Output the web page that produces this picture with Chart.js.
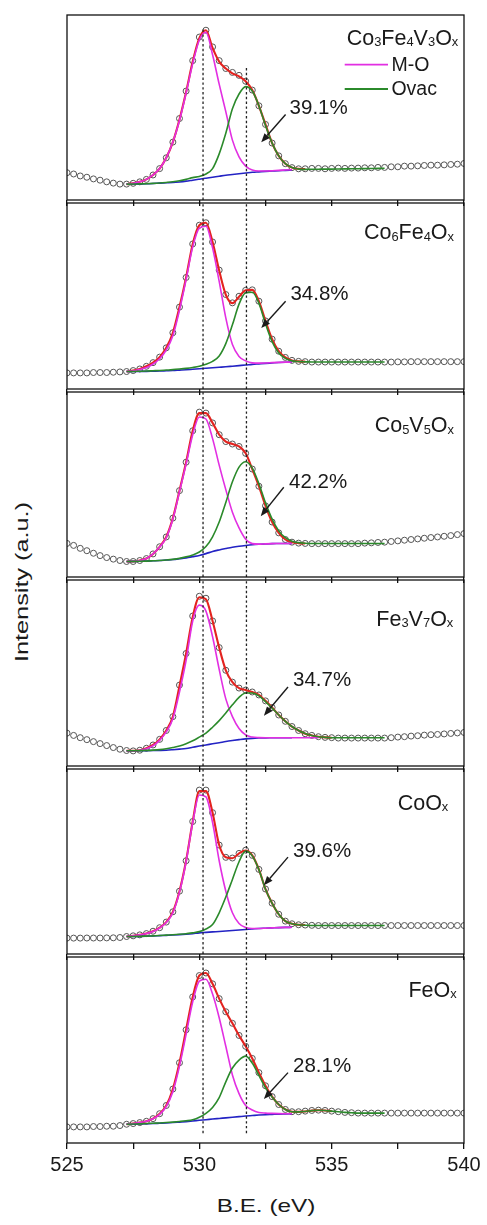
<!DOCTYPE html>
<html>
<head>
<meta charset="utf-8">
<script src="https://cdn.jsdelivr.net/npm/chart.js@4.4.1/dist/chart.umd.min.js"></script>
<style>
  body { margin: 0; background: #fff; }
  #wrap { position: relative; width: 487px; height: 1225px; overflow: hidden; background: #fff; }
  .panel { position: absolute; left: 0; width: 487px; }
  .title { position: absolute; white-space: nowrap; line-height: 1; color: #1a1a1a;
           font-family: Arial, "Liberation Sans", sans-serif; }
  #ytitle { left: 21px; top: 582px; font-size: 19px; transform: translate(-50%, -50%) rotate(-90deg) scaleX(1.33); }
  #xtitle { left: 266px; top: 1205px; font-size: 19px; transform: translate(-50%, -50%) scaleX(1.28); }
</style>
</head>
<body>
<div id="wrap">
  <div class="title" id="ytitle">Intensity (a.u.)</div>
  <div class="title" id="xtitle">B.E. (eV)</div>
</div>
<script>
// binding energy grid of the measured points (eV)
const energy = [525, 525.25, 525.5, 525.75, 526, 526.25, 526.5, 526.75, 527, 527.25, 527.5, 527.75,
  528, 528.25, 528.5, 528.75, 529, 529.25, 529.5, 529.75, 530, 530.25, 530.5, 530.75,
  531, 531.25, 531.5, 531.75, 532, 532.25, 532.5, 532.75, 533, 533.25, 533.5, 533.75,
  534, 534.25, 534.5, 534.75, 535, 535.25, 535.5, 535.75, 536, 536.25, 536.5, 536.75,
  537, 537.25, 537.5, 537.75, 538, 538.25, 538.5, 538.75, 539, 539.25, 539.5, 539.75, 540];
// grid of the fitted curves (eV)
const fitEnergy = [527.25, 527.5, 527.75, 528, 528.25, 528.5, 528.75, 529, 529.25, 529.5,
  529.75, 530, 530.25, 530.5, 530.75, 531, 531.25, 531.5, 531.75, 532,
  532.25, 532.5, 532.75, 533, 533.25, 533.5, 533.75, 534, 534.25, 534.5,
  534.75, 535, 535.25, 535.5, 535.75, 536, 536.25, 536.5, 536.75, 537];

const samples = ['Co3Fe4V3Ox', 'Co6Fe4Ox', 'Co5V5Ox', 'Fe3V7Ox', 'CoOx', 'FeOx'];
const ovacShare = [39.1, 34.8, 42.2, 34.7, 39.6, 28.1];
const peakCenters = [530.14, 531.78];

// Co3Fe4V3Ox
const coFeV_pts = [27.8, 26.5, 24.5, 23.2, 21.5, 20.2, 18.5, 17.2, 16.2,
  16.2, 17, 18.5, 21, 25.5, 32, 43, 59, 83, 111, 142, 166,
  173, 156, 142, 134, 130, 127, 121, 112, 96, 77, 58, 45,
  37, 33, 31.8, 31.8, 32.2, 32.2, 31.8, 32.2, 32.5, 32.2, 32.5, 32.5,
  32.8, 32.8, 33.2, 33.2, 33.8, 33.8, 34.5, 34.5, 34.8, 35.2, 35.5, 35.5,
  35.8, 36.2, 36.5, 37.2];
const coFeV_fit = [16.2, 17, 18.5, 21, 25.5, 32, 43, 59, 82, 110, 141, 165, 173, 155, 141, 134,
  129, 126, 121, 112, 96, 77, 58, 45, 37, 33, 31.8, 31.5];
const coFeV_mo = [16.2, 17, 18.5, 21, 25.5, 32, 43, 59, 81, 109, 139, 163, 171, 148, 118, 90,
  61, 44, 34.5, 30.5, 29.5, 29.5, 29.8, 30.2, 30.5, 30.8];
const coFeV_ov = [16.2, 16.3, 16.4, 16.6, 16.9, 17.3, 17.9, 18.6, 19.6, 21, 22.8, 24, 26.5, 32, 47, 68,
  93, 108, 115.5, 111, 96, 76, 58, 45, 37, 33, 31.5, 31.2, 31.3, 31.4, 31.5, 31.5,
  31.6, 31.7, 31.8, 31.9, 32, 32.1, 32.2, 32.3];
const coFeV_bg = [16.2, 16.3, 16.4, 16.5, 16.8, 17.2, 17.5, 17.8, 18.4, 19.2, 20.2, 21.2, 22.2,
  23.2, 24.2, 25.2, 26, 26.8, 27.5, 28.2, 28.7, 29.2, 29.5, 29.8, 30.2, 30.5];

// Co6Fe4Ox
const coFe_pts = [16.3, 16.3, 16.3, 16.3, 16.7, 16.7, 16.7, 17, 17.3,
  17.7, 18.7, 20.3, 23, 26.7, 32.3, 41.7, 57, 83, 113, 147, 166,
  168.5, 149, 120.5, 95.7, 87.3, 94, 100, 100.5, 89, 69, 50.5, 38.3,
  32, 29, 28, 27.7, 27.3, 27.3, 27.3, 27.3, 27.3, 27.3, 27.3, 27.3,
  27.3, 27.3, 27.3, 27.3, 27.3, 27.5, 27.5, 27.7, 27.7, 27.7, 27.7, 27.7,
  27.7, 27.7, 27.7, 27.7];
const coFe_fit = [17.7, 18.7, 20.3, 23, 26.7, 32.3, 41.7, 57, 83, 113, 147, 166, 168.5, 149, 120, 95.5,
  87, 93.5, 100, 100.5, 89, 69, 50.5, 38.3, 32, 29, 28, 27.7];
const coFe_mo = [17.7, 18.3, 19.7, 21.7, 25.3, 30.7, 39.5, 54, 80, 111, 144, 163, 165, 143, 109, 72,
  45, 33, 28.5, 26.5, 26.2, 26.3, 26.7, 27, 27.2, 27.3];
const coFe_ov = [17.7, 17.8, 18, 18.2, 18.5, 18.8, 19.2, 19.6, 20.2, 20.9, 21.8, 23, 25, 28, 33.5, 46,
  65, 86, 97.5, 98, 87, 66, 48, 36.5, 31, 28.5, 27.8, 27.5, 27.3, 27.3, 27.3, 27.3,
  27.3, 27.3, 27.3, 27.3, 27.3, 27.3, 27.3, 27.3];
const coFe_bg = [17.7, 17.8, 17.85, 17.9, 18.05, 18.2, 18.45, 18.7, 19.1, 19.5, 20, 20.5, 21,
  21.5, 22, 22.5, 23.1, 23.7, 24.3, 25, 25.5, 26, 26.4, 26.8, 27.1, 27.3];

// Co5V5Ox
const coV_pts = [34.2, 32.2, 29.2, 26.8, 24.2, 21.8, 19.8, 18.2, 16.8,
  15.8, 15.8, 16.8, 18.8, 23.5, 30.8, 40.8, 60, 88, 117, 149, 168,
  167, 157, 145, 138, 135.5, 133, 126, 110, 92.5, 72.5, 56, 45,
  38.2, 35.5, 34.5, 34.2, 34, 34, 34, 34, 34, 34, 34, 34,
  34.5, 34.8, 35.2, 35.5, 36.2, 36.8, 37.5, 38.2, 38.8, 39.5, 40.2, 40.8,
  41.5, 42.2, 43.2, 44.2];
const coV_fit = [15.8, 15.8, 16.8, 18.8, 23.5, 30.8, 40.8, 60, 88, 117, 149, 167, 167, 157, 145, 138,
  135.5, 133, 126, 110, 92.5, 72.5, 56, 45, 38.2, 35.5, 34.5, 34.2];
const coV_mo = [15.8, 16, 16.8, 18.8, 23.5, 30.5, 40, 59, 87, 115, 145, 163, 161, 141, 114, 89,
  66, 50, 38.5, 34, 33.5, 33.8, 34, 34.1, 34.2, 34.2];
const coV_ov = [15.8, 15.9, 16, 16.2, 16.5, 16.8, 17.3, 18, 19, 20.5, 22.5, 25.5, 31, 41, 56, 76,
  97, 112, 117.5, 111, 95, 75.5, 59, 47, 40, 36.5, 35, 34.4, 34.2, 34.2, 34.2, 34.2,
  34.2, 34.2, 34.2, 34.2, 34.2, 34.2, 34.2, 34.2];
const coV_bg = [15.8, 15.9, 16, 16.2, 16.5, 16.8, 17.3, 17.8, 18.6, 19.5, 20.7, 22, 23.8, 26,
  27.6, 29, 30.3, 31.3, 32.1, 32.8, 33.3, 33.7, 34, 34.1, 34.2, 34.2];

// Fe3V7Ox
const feV_pts = [33.3, 31, 28.7, 26.7, 24.7, 22.7, 20.7, 18.7, 17,
  15.7, 15.3, 16, 18, 21.3, 27, 36, 50, 82, 114, 152, 172,
  170, 147, 120, 97, 85, 79, 77, 75, 72, 66, 59.3, 51.7,
  45.3, 40, 36, 32.7, 31, 29.7, 29, 28.7, 28.3, 28.3, 28.3, 28.3,
  28.3, 28.3, 28.3, 28.3, 28.7, 29.3, 29.7, 30.3, 30.7, 31.3, 31.7, 32,
  32.5, 33, 33.5, 34];
const feV_fit = [15.5, 15.4, 16, 18, 21.3, 27, 36, 50, 81, 114, 151, 171, 169, 147, 120, 97,
  85, 79, 77, 75, 72, 66, 59.3, 51.7, 45.3, 40, 36, 32.7, 31, 29.7, 29, 28.7];
const feV_mo = [15.5, 15.4, 16, 17.5, 20.5, 26, 34.5, 48, 75, 107, 147, 163, 157, 131, 98, 68,
  50, 38, 31.5, 29.3, 28.8, 28.7, 28.7, 28.7, 28.7, 28.7, 28.7, 28.7, 28.7, 28.7];
const feV_ov = [15.5, 15.5, 15.6, 15.8, 16.1, 16.6, 17.5, 18.8, 20.3, 22.5, 25.5, 29.3, 33.3, 39.3, 46, 53.7,
  62, 69.5, 74, 74, 71, 65.3, 58.7, 51.7, 45.3, 40, 36, 33, 31, 29.7, 29, 28.7,
  28.7, 28.7, 28.7, 28.7, 28.7, 28.7, 28.7, 28.7];
const feV_bg = [15.5, 15.5, 15.5, 15.6, 15.7, 15.8, 16, 16.5, 17.1, 17.8, 19, 20.2, 21.3, 22.5,
  23.6, 24.8, 25.8, 26.7, 27.5, 28, 28.3, 28.5, 28.6, 28.7, 28.7, 28.7];

// CoOx
const coO_pts = [16.2, 16.2, 16.2, 16.3, 16.3, 16.3, 16.4, 16.5, 16.8,
  17.8, 18.5, 19.5, 20.8, 23.2, 26.8, 32.5, 43, 64, 95, 135, 167,
  167, 144, 111, 98.5, 97.8, 102.5, 105.8, 100.5, 86.2, 66.2, 51.8, 40.5,
  33.5, 30.8, 29.8, 29.5, 29.2, 29, 29, 29, 29, 29, 29, 29,
  29, 29, 29, 29, 29, 29, 29, 29, 29, 29, 29, 29,
  29, 29, 29, 29];
const coO_fit = [17.8, 18.5, 19.5, 20.8, 23.2, 26.8, 32.5, 43, 64, 95, 135, 166, 166, 144, 111, 98.5,
  97.5, 102.5, 105.5, 100.5, 86.2, 66.2, 51.8, 40.5, 33.5, 30.8, 29.8, 29.5];
const coO_mo = [17.8, 18.5, 19.5, 20.8, 23, 26.5, 32, 42, 63, 94, 134, 162, 160, 134, 95, 64,
  42, 31, 27, 26, 26, 26.3, 26.6, 26.9, 27.1, 27.2];
const coO_ov = [17.8, 17.9, 18, 18.2, 18.5, 18.8, 19.2, 19.6, 20.1, 20.7, 21.5, 22.8, 25.5, 30, 42, 58,
  76, 94, 105, 100, 86, 66, 51.5, 40.5, 33.5, 30.8, 29.8, 29.3, 29, 29, 29, 29,
  29, 29, 29, 29, 29, 29, 29, 29];
const coO_bg = [17.8, 17.9, 18, 18.2, 18.4, 18.7, 19, 19.3, 19.7, 20.2, 20.8, 21.5, 22, 22.5,
  23, 23.5, 24, 24.5, 25, 25.5, 26, 26.3, 26.6, 26.9, 27.1, 27.2];

// FeOx
const feO_pts = [16.3, 16.3, 16.3, 16.3, 16.7, 16.7, 17, 17, 17.7,
  19, 19.7, 20.7, 22, 24.7, 29.7, 38, 54.7, 81.3, 114.7, 148, 169.7,
  172.3, 161.3, 146.3, 133, 121.3, 109, 98, 85.7, 71.3, 58, 47, 39,
  34, 31.7, 31.7, 32.3, 33, 33.3, 33, 32.3, 31.7, 31, 30.7, 30.3,
  30.3, 30.3, 30.3, 30.3, 30.3, 30.3, 30.3, 30.3, 30.3, 30.3, 30.3, 30.3,
  30.3, 30.3, 30.3, 30.3];
const feO_fit = [19, 19.7, 20.7, 22, 24.7, 29.7, 38, 54.7, 81.3, 114.7, 148, 169.7, 172.3, 161.3, 146.3, 133,
  121.3, 109, 98, 85.7, 71.3, 58, 47, 39, 34, 31.7, 31.5, 32, 32.8, 33.2, 33, 32.3];
const feO_mo = [19, 19.7, 20.7, 22, 24.5, 29, 37, 52, 78, 110, 143, 164, 166, 151, 127, 98,
  69, 50, 38, 33.5, 31, 30.3, 30, 29.8, 29.7, 29.7];
const feO_ov = [19, 19.2, 19.4, 19.7, 20, 20.3, 20.7, 21.2, 21.8, 22.5, 23.5, 26, 30, 36, 46, 62,
  76, 84, 88, 81, 68.5, 56, 46.5, 39, 34, 31.7, 31.5, 32, 32.8, 33.2, 33, 32.3,
  31.7, 31, 30.7, 30.3, 30.3, 30.3, 30.3, 30.3];
const feO_bg = [19, 19.1, 19.3, 19.5, 19.7, 20, 20.3, 20.7, 21.2, 21.7, 22.3, 23, 23.6, 24.3,
  24.9, 25.5, 26.1, 26.7, 27.3, 27.8, 28.3, 28.7, 29, 29.3, 29.5, 29.7];

const series = [
  [coFeV_pts, coFeV_fit, coFeV_mo, coFeV_ov, coFeV_bg],
  [coFe_pts, coFe_fit, coFe_mo, coFe_ov, coFe_bg],
  [coV_pts, coV_fit, coV_mo, coV_ov, coV_bg],
  [feV_pts, feV_fit, feV_mo, feV_ov, feV_bg],
  [coO_pts, coO_fit, coO_mo, coO_ov, coO_bg],
  [feO_pts, feO_fit, feO_mo, feO_ov, feO_bg]
];

// layout (pixels / data coordinates of the annotations)
const panelTop = [12, 200, 389, 577, 766, 954, 1143];
const dashSpan = [[0, 175, 135.5], [0, 188.5, 188.5], [0, 188.5, 188.5], [0, 188.5, 188.5], [0, 188.5, 188.5], [10, 188.5, 188.5]];
const nameRight = [5.7, 10, 10, 10.7, 15.7, 7.3];
const nameBase = [29.7, 36.2, 40.3, 45.8, 40.7, 39.5];
const pctAt = [[533.41, 87.2], [533.44, 90], [533.39, 91], [533.54, 81], [533.54, 99.3], [533.54, 72.3]];
const arrowFrom = [[533.26, 87.2], [533.26, 89], [533.19, 91.5], [533.35, 80], [533.35, 98.7], [533.35, 71.3]];
const arrowTo = [[532.34, 58.8], [532.34, 61.7], [532.32, 62], [532.44, 51], [532.44, 70], [532.44, 44.7]];

const FONT = 'Arial, "Liberation Sans", sans-serif';
const INK = '#1a1a1a';
const RED = '#e3231f', MAG = '#e22fe2', GRN = '#2b8a2b', BLU = '#2323c4';

function drawFormula(ctx, text, right, base, size) {
  const parts = [];
  for (const ch of text) {
    const sub = /[0-9x]/.test(ch);
    const last = parts[parts.length - 1];
    if (last && last.sub === sub) last.t += ch; else parts.push({ t: ch, sub: sub });
  }
  let total = 0;
  parts.forEach(p => {
    ctx.font = (p.sub ? size * 0.6 : size) + 'px ' + FONT;
    p.w = ctx.measureText(p.t).width;
    total += p.w;
  });
  let x = right - total;
  parts.forEach(p => {
    ctx.font = (p.sub ? size * 0.6 : size) + 'px ' + FONT;
    ctx.fillText(p.t, x, base + (p.sub ? 1.5 : 0));
    x += p.w;
  });
}

const framePlugin = {
  id: 'frame',
  afterDraw(chart) {
    const a = chart.chartArea, ctx = chart.ctx;
    ctx.save();
    ctx.strokeStyle = '#111';
    ctx.lineWidth = 1.3;
    ctx.strokeRect(a.left, a.top, a.right - a.left, a.bottom - a.top);
    ctx.restore();
  }
};

function notesPlugin(i) {
  return {
    id: 'notes',
    afterDatasetsDraw(chart) {
      const ctx = chart.ctx, a = chart.chartArea;
      const xs = chart.scales.x, ys = chart.scales.y;
      ctx.save();
      ctx.fillStyle = INK;
      ctx.textBaseline = 'alphabetic';
      drawFormula(ctx, samples[i], a.right - nameRight[i], a.top + nameBase[i], 21.5);

      ctx.font = '20.5px ' + FONT;
      ctx.textAlign = 'left';
      ctx.fillText(ovacShare[i].toFixed(1) + '%', xs.getPixelForValue(pctAt[i][0]), ys.getPixelForValue(pctAt[i][1]));

      // arrow
      const x1 = xs.getPixelForValue(arrowFrom[i][0]), y1 = ys.getPixelForValue(arrowFrom[i][1]);
      const x2 = xs.getPixelForValue(arrowTo[i][0]), y2 = ys.getPixelForValue(arrowTo[i][1]);
      const ang = Math.atan2(y2 - y1, x2 - x1);
      const hl = 9, hw = 3.6;
      const bx = x2 - hl * Math.cos(ang), by = y2 - hl * Math.sin(ang);
      ctx.strokeStyle = INK;
      ctx.lineWidth = 1.4;
      ctx.beginPath();
      ctx.moveTo(x1, y1);
      ctx.lineTo(bx, by);
      ctx.stroke();
      ctx.beginPath();
      ctx.moveTo(x2, y2);
      ctx.lineTo(bx + hw * Math.sin(ang), by - hw * Math.cos(ang));
      ctx.lineTo(bx - hw * Math.sin(ang), by + hw * Math.cos(ang));
      ctx.closePath();
      ctx.fill();

      if (i === 0) {
        // legend
        const items = [['M-O', MAG, 49.7, 56.3], ['Ovac', GRN, 74, 80.3]];
        ctx.font = '19.5px ' + FONT;
        items.forEach(it => {
          ctx.strokeStyle = it[1];
          ctx.lineWidth = 1.8;
          ctx.beginPath();
          ctx.moveTo(a.left + 277.7, a.top + it[2]);
          ctx.lineTo(a.left + 321, a.top + it[2]);
          ctx.stroke();
          ctx.fillText(it[0], a.left + 324.4, a.top + it[3]);
        });
      }
      ctx.restore();
    }
  };
}

Chart.defaults.font.family = FONT;
Chart.defaults.color = INK;

const wrap = document.getElementById('wrap');
series.forEach((s, i) => {
  const last = i === series.length - 1;
  const h = panelTop[i + 1] - panelTop[i];
  const axisH = last ? 36 : 6;
  const div = document.createElement('div');
  div.className = 'panel';
  div.style.top = (panelTop[i] - 2) + 'px';
  div.style.height = (h + 2 + axisH) + 'px';
  const cv = document.createElement('canvas');
  div.appendChild(cv);
  wrap.appendChild(div);

  const [pts, fit, mo, ov, bg] = s;
  const onFit = arr => arr.map((v, k) => ({ x: fitEnergy[k], y: v }));
  const curve = (arr, color, width, order) => ({
    data: onFit(arr), borderColor: color, borderWidth: width, pointRadius: 0,
    cubicInterpolationMode: 'monotone', fill: false, order: order
  });
  const datasets = [
    {
      data: pts.map((v, k) => ({ x: energy[k], y: v })),
      showLine: false, pointRadius: 3, pointBorderWidth: 1,
      pointBorderColor: '#555', pointBackgroundColor: 'rgba(255,255,255,0.9)', order: 6
    },
    curve(fit, RED, 2.1, 5),
    curve(bg, BLU, 1.6, 4),
    curve(mo, MAG, 1.6, 3),
    curve(ov, GRN, 1.6, 2)
  ];
  peakCenters.forEach((c, j) => {
    datasets.push({
      data: [{ x: c, y: dashSpan[i][0] }, { x: c, y: dashSpan[i][j + 1] }],
      borderColor: '#222', borderWidth: 1.3, borderDash: [2.4, 2.4], pointRadius: 0, order: 1
    });
  });

  new Chart(cv, {
    type: 'line',
    data: { datasets: datasets },
    options: {
      responsive: true,
      maintainAspectRatio: false,
      animation: false,
      devicePixelRatio: 1,
      layout: { padding: { top: 2, left: 67, right: 23, bottom: 0 } },
      plugins: { legend: { display: false }, tooltip: { enabled: false } },
      scales: {
        x: {
          type: 'linear', min: 525, max: 540,
          afterFit: sc => { sc.height = axisH; },
          border: { display: false },
          grid: { display: true, drawOnChartArea: false, drawTicks: true, tickLength: 6,
                  tickWidth: 1.3, tickColor: '#111', color: '#111', lineWidth: 1.3 },
          ticks: {
            display: last, stepSize: 2.5, autoSkip: false, maxRotation: 0, padding: 4,
            color: INK, font: { size: 20 },
            callback: v => (v % 5 === 0 ? String(v) : '')
          }
        },
        y: { display: false, min: 0, max: 188.5 }
      }
    },
    plugins: [framePlugin, notesPlugin(i)]
  });
});
</script>
</body>
</html>
